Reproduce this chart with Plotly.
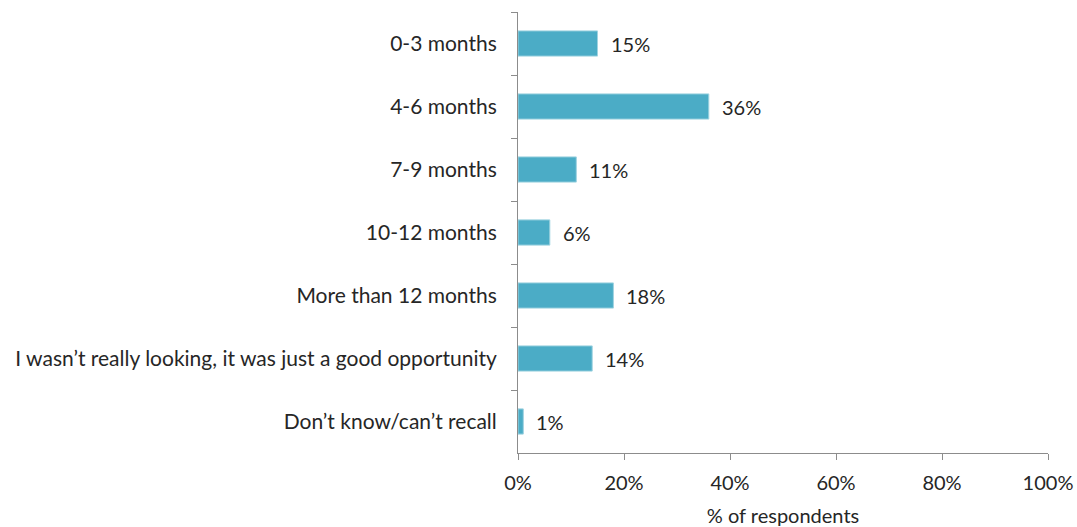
import plotly.graph_objects as go

# Time taken to find the job, share of respondents
categories = [
    "0-3 months",
    "4-6 months",
    "7-9 months",
    "10-12 months",
    "More than 12 months",
    "I wasn\u2019t really looking, it was just a good opportunity",
    "Don\u2019t know/can\u2019t recall",
]
values = [15, 36, 11, 6, 18, 14, 1]
x_ticks = [0, 20, 40, 60, 80, 100]
x_tick_labels = ["0%", "20%", "40%", "60%", "80%", "100%"]

FONT = "Lato"
FONT_SIZE = 21
TEXT_COLOR = "#262626"
AXIS_COLOR = "#8c8c8c"
BAR_COLOR = "#4bacc6"

fig = go.Figure(
    go.Bar(
        x=values,
        y=categories,
        orientation="h",
        width=0.4,
        marker=dict(color=BAR_COLOR, line=dict(color="#9fd3e0", width=1)),
        hoverinfo="skip",
    )
)

# value labels to the right of each bar
for cat, v in zip(categories, values):
    fig.add_annotation(
        x=v, y=cat, text=f"{v}%", showarrow=False,
        xanchor="left", xshift=11,
        font=dict(family=FONT, size=FONT_SIZE - 1, color=TEXT_COLOR),
    )

fig.update_layout(
    width=1077, height=527,
    margin=dict(l=518, r=29, t=12, b=74),
    paper_bgcolor="white", plot_bgcolor="white",
    showlegend=False,
    font=dict(family=FONT, size=FONT_SIZE, color=TEXT_COLOR),
    bargap=0.6,
)

fig.update_xaxes(
    range=[0, 100],
    tickvals=x_ticks, ticktext=x_tick_labels,
    automargin=False,
    showgrid=False, zeroline=False,
    showline=True, linecolor=AXIS_COLOR, linewidth=1,
    ticks="outside", ticklen=6, tickcolor=AXIS_COLOR,
    ticklabelstandoff=6,
    tickfont=dict(family=FONT, size=FONT_SIZE - 1, color=TEXT_COLOR),
    title=dict(text="% of respondents", standoff=16,
               font=dict(family=FONT, size=FONT_SIZE - 1, color=TEXT_COLOR)),
    fixedrange=True,
)

fig.update_yaxes(
    type="category",
    autorange="reversed",
    automargin=False,
    showgrid=False, zeroline=False,
    showline=True, linecolor=AXIS_COLOR, linewidth=1,
    ticks="outside", ticklen=6, tickcolor=AXIS_COLOR,
    tickson="boundaries",
    ticklabelstandoff=16,
    tickfont=dict(family=FONT, size=FONT_SIZE, color=TEXT_COLOR),
    fixedrange=True,
)

fig.write_html("out.html", config={"displayModeBar": False})
